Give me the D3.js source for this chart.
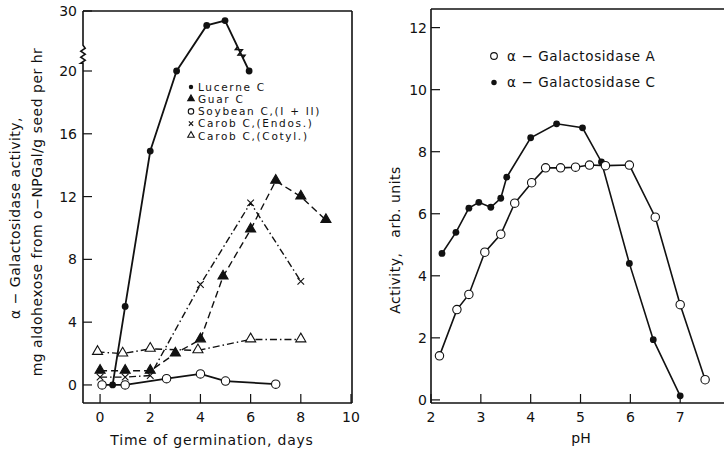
<!DOCTYPE html>
<html>
<head>
<meta charset="utf-8">
<script src="https://cdn.jsdelivr.net/npm/d3@7"></script>
<style>
  body { margin: 0; background: #fff; }
  text { font-family: "DejaVu Sans", sans-serif; fill: #111; }
</style>
</head>
<body>
<script>
// left panel: germination time course
var lucerneDays = [0.5, 1, 2, 3.05, 4.25, 4.98, 5.94];
var lucerneAct = [0, 5, 14.9, 20, 27.6, 28.4, 20];
var guarDays = [0, 1, 2, 3, 4, 4.9, 6, 7, 8, 9];
var guarAct = [0.9, 0.9, 0.9, 2.0, 2.9, 6.9, 9.9, 13.0, 12.0, 10.5];
var soyDays = [0.08, 1, 2.65, 4, 5, 7];
var soyAct = [0, 0, 0.4, 0.7, 0.25, 0.05];
var endosDays = [0, 1, 2, 4, 6, 8];
var endosAct = [0.5, 0.5, 0.6, 6.4, 11.6, 6.6];
var cotylDays = [-0.1, 0.9, 2, 3.9, 6, 8];
var cotylAct = [2.1, 2.0, 2.3, 2.2, 2.9, 2.9];
var leftYTicks = [0, 4, 8, 12, 16, 20, 30];
var leftXTicks = [0, 2, 4, 6, 8, 10];
var leftLegend = ["Lucerne C", "Guar C", "Soybean C,(I + II)", "Carob C,(Endos.)", "Carob C,(Cotyl.)"];

// right panel: pH profile
var phA = [2.17, 2.52, 2.76, 3.08, 3.4, 3.68, 4.02, 4.3, 4.6, 4.9, 5.18, 5.5, 5.98, 6.5, 7.0, 7.5];
var actA = [1.42, 2.91, 3.4, 4.76, 5.34, 6.34, 7.0, 7.48, 7.48, 7.5, 7.57, 7.55, 7.57, 5.89, 3.07, 0.65];
var phC = [2.22, 2.5, 2.76, 2.96, 3.2, 3.4, 3.52, 4.0, 4.52, 5.04, 5.42, 5.98, 6.46, 7.0];
var actC = [4.72, 5.4, 6.18, 6.37, 6.21, 6.5, 7.18, 8.45, 8.9, 8.77, 7.67, 4.4, 1.94, 0.13];
var rightYTicks = [0, 2, 4, 6, 8, 10, 12];
var rightXTicks = [2, 3, 4, 5, 6, 7];
var rightLegend = ["\u03b1 \u2212 Galactosidase  A", "\u03b1 \u2212 Galactosidase  C"];

function zip(xs, ys) {
    return xs.map(function (x, i) { return { x: x, y: ys[i] }; });
}

var width = 724, height = 451;
var svg = d3.select("body").append("svg")
    .attr("width", width)
    .attr("height", height);

var ink = "#111";

// left scales (y axis is broken between 20 and 30)
var xL = d3.scaleLinear().domain([-0.68, 10.04]).range([83, 352]);
var yL = d3.scaleLinear().domain([-1.15, 20, 30]).range([403, 71, 11]);

// right scales
var xR = d3.scaleLinear().domain([2, 8.2]).range([431, 740]);
var yR = d3.scaleLinear().domain([-0.1, 12.6]).range([403, 9]);

function drawFrame(x0, x1, y0, y1, breakY) {
    var g = svg.append("g").attr("class", "frame")
        .attr("fill", "none").attr("stroke", ink).attr("stroke-width", 1.6);
    g.append("line").attr("x1", x0).attr("x2", x1).attr("y1", y0).attr("y2", y0);
    g.append("line").attr("x1", x0).attr("x2", x1).attr("y1", y1).attr("y2", y1);
    g.append("line").attr("x1", x1).attr("x2", x1).attr("y1", y0).attr("y2", y1);
    if (breakY) {
        var p = d3.path();
        p.moveTo(x0, y1);
        p.lineTo(x0, breakY[1]);
        var n = 6, step = (breakY[0] - breakY[1]) / n;
        for (var i = 1; i <= n; i = i + 1) {
            p.lineTo(x0 + (i % 2 ? 2.2 : -2.2), breakY[1] + step * i);
        }
        p.lineTo(x0, breakY[0]);
        p.lineTo(x0, y0);
        g.append("path").attr("d", p.toString());
    } else {
        g.append("line").attr("x1", x0).attr("x2", x0).attr("y1", y0).attr("y2", y1);
    }
}

function drawTicks(xs, ys, xTicks, yTicks, yLabelX) {
    var g = svg.append("g").attr("class", "ticks");
    var x0 = xs.range()[0], yb = ys.range()[0];
    g.selectAll("line.yt").data(yTicks).enter().append("line")
        .attr("class", "yt")
        .attr("x1", x0).attr("x2", x0 + 9)
        .attr("y1", function (d) { return ys(d); })
        .attr("y2", function (d) { return ys(d); })
        .attr("stroke", ink).attr("stroke-width", 1.2);
    g.selectAll("text.yl").data(yTicks).enter().append("text")
        .attr("class", "yl")
        .attr("x", yLabelX)
        .attr("y", function (d) { return ys(d); })
        .attr("dy", "0.36em")
        .attr("text-anchor", "end")
        .style("font-size", "14px")
        .text(function (d) { return d; });
    g.selectAll("line.xt").data(xTicks).enter().append("line")
        .attr("class", "xt")
        .attr("x1", function (d) { return xs(d); })
        .attr("x2", function (d) { return xs(d); })
        .attr("y1", yb).attr("y2", yb - 9)
        .attr("stroke", ink).attr("stroke-width", 1.2);
    g.selectAll("text.xl").data(xTicks).enter().append("text")
        .attr("class", "xl")
        .attr("x", function (d) { return xs(d); })
        .attr("y", 417)
        .attr("dy", "0.36em")
        .attr("text-anchor", "middle")
        .style("font-size", "14px")
        .text(function (d) { return d; });
}

function drawSeries(xs, ys, pts, dash, width_) {
    var line = d3.line()
        .x(function (d) { return xs(d.x); })
        .y(function (d) { return ys(d.y); });
    svg.append("path")
        .datum(pts)
        .attr("d", line)
        .attr("fill", "none")
        .attr("stroke", ink)
        .attr("stroke-width", width_ || 1.6)
        .attr("stroke-dasharray", dash || null);
}

function addMarker(g, kind, cx, cy, s) {
    if (kind === "dot") {
        g.append("circle").attr("cx", cx).attr("cy", cy).attr("r", 3.4 * s).attr("fill", ink);
    } else if (kind === "ring") {
        g.append("circle").attr("cx", cx).attr("cy", cy).attr("r", 4.2 * s)
            .attr("fill", "#fff").attr("stroke", ink).attr("stroke-width", 1.1);
    } else if (kind === "tri" || kind === "otri") {
        g.append("path")
            .attr("d", d3.symbol().type(d3.symbolTriangle).size(44 * s * s))
            .attr("transform", "translate(" + cx + "," + (cy - 0.5) + ")")
            .attr("fill", kind === "tri" ? ink : "#fff")
            .attr("stroke", ink).attr("stroke-width", 1.1);
    } else if (kind === "cross") {
        var r = 3.3 * s;
        g.append("path")
            .attr("d", "M" + (cx - r) + "," + (cy - r) + "L" + (cx + r) + "," + (cy + r) +
                       "M" + (cx - r) + "," + (cy + r) + "L" + (cx + r) + "," + (cy - r))
            .attr("stroke", ink).attr("stroke-width", 1.1);
    }
}

function drawMarkers(xs, ys, pts, kind) {
    var g = svg.append("g").attr("class", "marks-" + kind);
    pts.forEach(function (d) { addMarker(g, kind, xs(d.x), ys(d.y), 1); });
}

// ---- left panel ----
drawFrame(xL.range()[0], xL.range()[1], yL.range()[0], yL.range()[2], [yL(21.3), yL(24.3)]);
drawTicks(xL, yL, leftXTicks, leftYTicks, 77);

var dashDot = "7,3,1.5,3";
var series = [
    { pts: zip(endosDays, endosAct), kind: "cross", dash: dashDot },
    { pts: zip(cotylDays, cotylAct), kind: "otri", dash: dashDot },
    { pts: zip(guarDays, guarAct), kind: "tri", dash: "7,4" },
    { pts: zip(soyDays, soyAct), kind: "ring", dash: null },
    { pts: zip(lucerneDays, lucerneAct), kind: "dot", dash: null }
];
series.forEach(function (s) { drawSeries(xL, yL, s.pts, s.dash, s.kind === "dot" || s.kind === "ring" ? 1.8 : 1.4); });
series.forEach(function (s) { drawMarkers(xL, yL, s.pts, s.kind); });

// little break mark on the lucerne line where it crosses the scale change
(function () {
    var a = lucerneDays.length - 2, b = lucerneDays.length - 1;
    var ax = xL(lucerneDays[a]), ay = yL(lucerneAct[a]);
    var bx = xL(lucerneDays[b]), by = yL(lucerneAct[b]);
    var dx = bx - ax, dy = by - ay, len = Math.sqrt(dx * dx + dy * dy);
    var ux = dx / len, uy = dy / len, nx = -uy, ny = ux;
    var p = d3.path();
    var t0 = 0.52, t1 = 0.74, n = 4;
    p.moveTo(ax + dx * t0, ay + dy * t0);
    for (var i = 1; i <= n; i = i + 1) {
        var t = t0 + (t1 - t0) * (i - 0.5) / n, side = i % 2 ? 3 : -3;
        p.lineTo(ax + dx * t + nx * side, ay + dy * t + ny * side);
    }
    p.lineTo(ax + dx * t1, ay + dy * t1);
    svg.append("path").attr("d", p.toString())
        .attr("fill", "none").attr("stroke", ink).attr("stroke-width", 1.6);
})();

var legL = svg.append("g").attr("class", "legend-left");
var legKinds = ["dot", "tri", "ring", "cross", "otri"];
leftLegend.forEach(function (label, i) {
    var y = 87 + i * 12.2;
    addMarker(legL, legKinds[i], 191, y, 0.65);
    legL.append("text")
        .attr("x", 198).attr("y", y).attr("dy", "0.36em")
        .style("font-size", "10.5px").style("letter-spacing", "1.7px")
        .text(label);
});

svg.append("text")
    .attr("transform", "translate(20,218) rotate(-90)")
    .attr("text-anchor", "middle")
    .style("font-size", "14px").style("letter-spacing", "0.5px")
    .text("\u03b1 \u2212 Galactosidase activity,");
svg.append("text")
    .attr("transform", "translate(42,212) rotate(-90)")
    .attr("text-anchor", "middle")
    .style("font-size", "14px").style("letter-spacing", "0.5px")
    .text("mg aldohexose from o\u2212NPGal/g seed per hr");
svg.append("text")
    .attr("x", 212).attr("y", 445)
    .attr("text-anchor", "middle")
    .style("font-size", "14px").style("letter-spacing", "0.8px")
    .text("Time of germination, days");

// ---- right panel ----
drawFrame(xR.range()[0], xR.range()[1], yR.range()[0], yR.range()[1], null);
drawTicks(xR, yR, rightXTicks, rightYTicks, 427);

drawSeries(xR, yR, zip(phC, actC), null, 1.6);
drawSeries(xR, yR, zip(phA, actA), null, 1.6);
drawMarkers(xR, yR, zip(phC, actC), "dot");
drawMarkers(xR, yR, zip(phA, actA), "ring");

var legR = svg.append("g").attr("class", "legend-right");
rightLegend.forEach(function (label, i) {
    var y = 56 + i * 26.5;
    addMarker(legR, i === 0 ? "ring" : "dot", 494, y, 0.8);
    legR.append("text")
        .attr("x", 507).attr("y", y).attr("dy", "0.36em")
        .style("font-size", "13.5px").style("letter-spacing", "0.6px")
        .text(label);
});

svg.append("text")
    .attr("transform", "translate(400,240) rotate(-90)")
    .attr("text-anchor", "middle")
    .style("font-size", "14px").style("letter-spacing", "0.5px")
    .attr("xml:space", "preserve")
    .text("Activity,   arb. units");
svg.append("text")
    .attr("x", 581).attr("y", 443)
    .attr("text-anchor", "middle")
    .style("font-size", "14px")
    .text("pH");
</script>
</body>
</html>
